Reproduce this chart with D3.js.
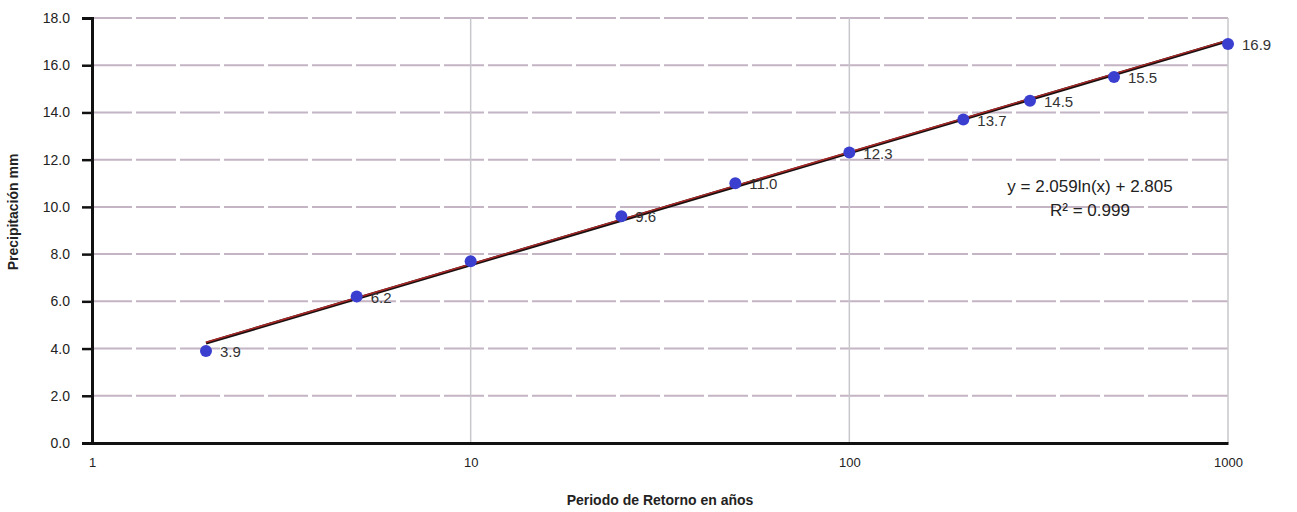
<!DOCTYPE html>
<html><head><meta charset="utf-8">
<script src="https://cdn.jsdelivr.net/npm/d3@7"></script>
<style>body{margin:0;background:#fff}svg{display:block}text{font-family:"Liberation Sans",Arial,sans-serif}</style>
</head><body>
<svg id="c" width="1297" height="512"></svg>
<script>
const periods = [2, 5, 10, 25, 50, 100, 200, 300, 500, 1000];
const values = [3.9, 6.2, 7.7, 9.6, 11.0, 12.3, 13.7, 14.5, 15.5, 16.9];
const labels = ["3.9", "6.2", "", "9.6", "11.0", "12.3", "13.7", "14.5", "15.5", "16.9"];
const trendPeriods = [2, 1000];
const trendValues = [4.23, 17.03];
const yTicks = [0, 2, 4, 6, 8, 10, 12, 14, 16, 18];
const xTicks = [1, 10, 100, 1000];
const equation = ["y = 2.059ln(x)  + 2.805", "R² = 0.999"];

const svg = d3.select("#c");
const x = d3.scaleLog().domain([1, 1000]).range([92, 1228]);
const y = d3.scaleLinear().domain([0, 18]).range([443, 18]);

// horizontal grid
svg.append("g").selectAll("line").data(yTicks.filter(d => d > 0)).join("line")
  .attr("x1", 92).attr("x2", 1228).attr("y1", d => y(d)).attr("y2", d => y(d))
  .attr("stroke", "#c4b4c4").attr("stroke-width", 2).attr("stroke-dasharray", "40 4");
// vertical grid
svg.append("g").selectAll("line").data(xTicks.filter(d => d > 1)).join("line")
  .attr("x1", d => x(d)).attr("x2", d => x(d)).attr("y1", 18).attr("y2", 443)
  .attr("stroke", "#c8c8cc").attr("stroke-width", 1.5);

// axes
const yAxis = d3.axisLeft(y).tickValues(yTicks).tickFormat(d3.format(".1f")).tickSize(10).tickPadding(12);
const gy = svg.append("g").attr("transform", "translate(92,0)").call(yAxis);
gy.select(".domain").attr("stroke", "#111").attr("stroke-width", 3);
gy.selectAll(".tick line").attr("stroke", "#111").attr("stroke-width", 2.5);
gy.selectAll("text").attr("font-size", 14).attr("fill", "#222");

const xAxis = d3.axisBottom(x).tickValues(xTicks).tickFormat(d3.format("d")).tickSize(0).tickPadding(15);
const gx = svg.append("g").attr("transform", "translate(0,443)").call(xAxis);
gx.select(".domain").attr("stroke", "#111").attr("stroke-width", 3);
gx.selectAll("text").attr("font-size", 13).attr("fill", "#222");

// trend line (dark with red overlay)
const line = d3.line().x(d => x(d[0])).y(d => y(d[1]));
const trend = trendPeriods.map((p, i) => [p, trendValues[i]]);
svg.append("path").datum(trend)
  .attr("d", line).attr("fill", "none").attr("stroke", "#1a0f0f").attr("stroke-width", 3);
svg.append("path").datum(trend)
  .attr("d", line).attr("fill", "none").attr("stroke", "#a82828").attr("stroke-width", 1.5)
  .attr("transform", "translate(0,-0.8)");

// points
svg.append("g").selectAll("circle").data(periods).join("circle")
  .attr("cx", d => x(d)).attr("cy", (d, i) => y(values[i])).attr("r", 6)
  .attr("fill", "#3b3fcf");

// labels
svg.append("g").selectAll("text").data(periods).join("text")
  .attr("x", d => x(d) + 14).attr("y", (d, i) => y(values[i]) + 6)
  .attr("font-size", 15).attr("fill", "#333").text((d, i) => labels[i]);

// equation
svg.append("g").selectAll("text").data(equation).join("text")
  .attr("x", 1090).attr("y", (d, i) => 192 + i * 24).attr("text-anchor", "middle")
  .attr("font-size", 17).attr("fill", "#222").text(d => d);

// titles
svg.append("text").attr("x", 660).attr("y", 505).attr("text-anchor", "middle")
  .attr("font-size", 14).attr("font-weight", "bold").attr("fill", "#222").text("Periodo de Retorno en años");
svg.append("text").attr("transform", "translate(18,212) rotate(-90)").attr("text-anchor", "middle")
  .attr("font-size", 14).attr("font-weight", "bold").attr("fill", "#222").text("Precipitación mm");
</script>
</body></html>
